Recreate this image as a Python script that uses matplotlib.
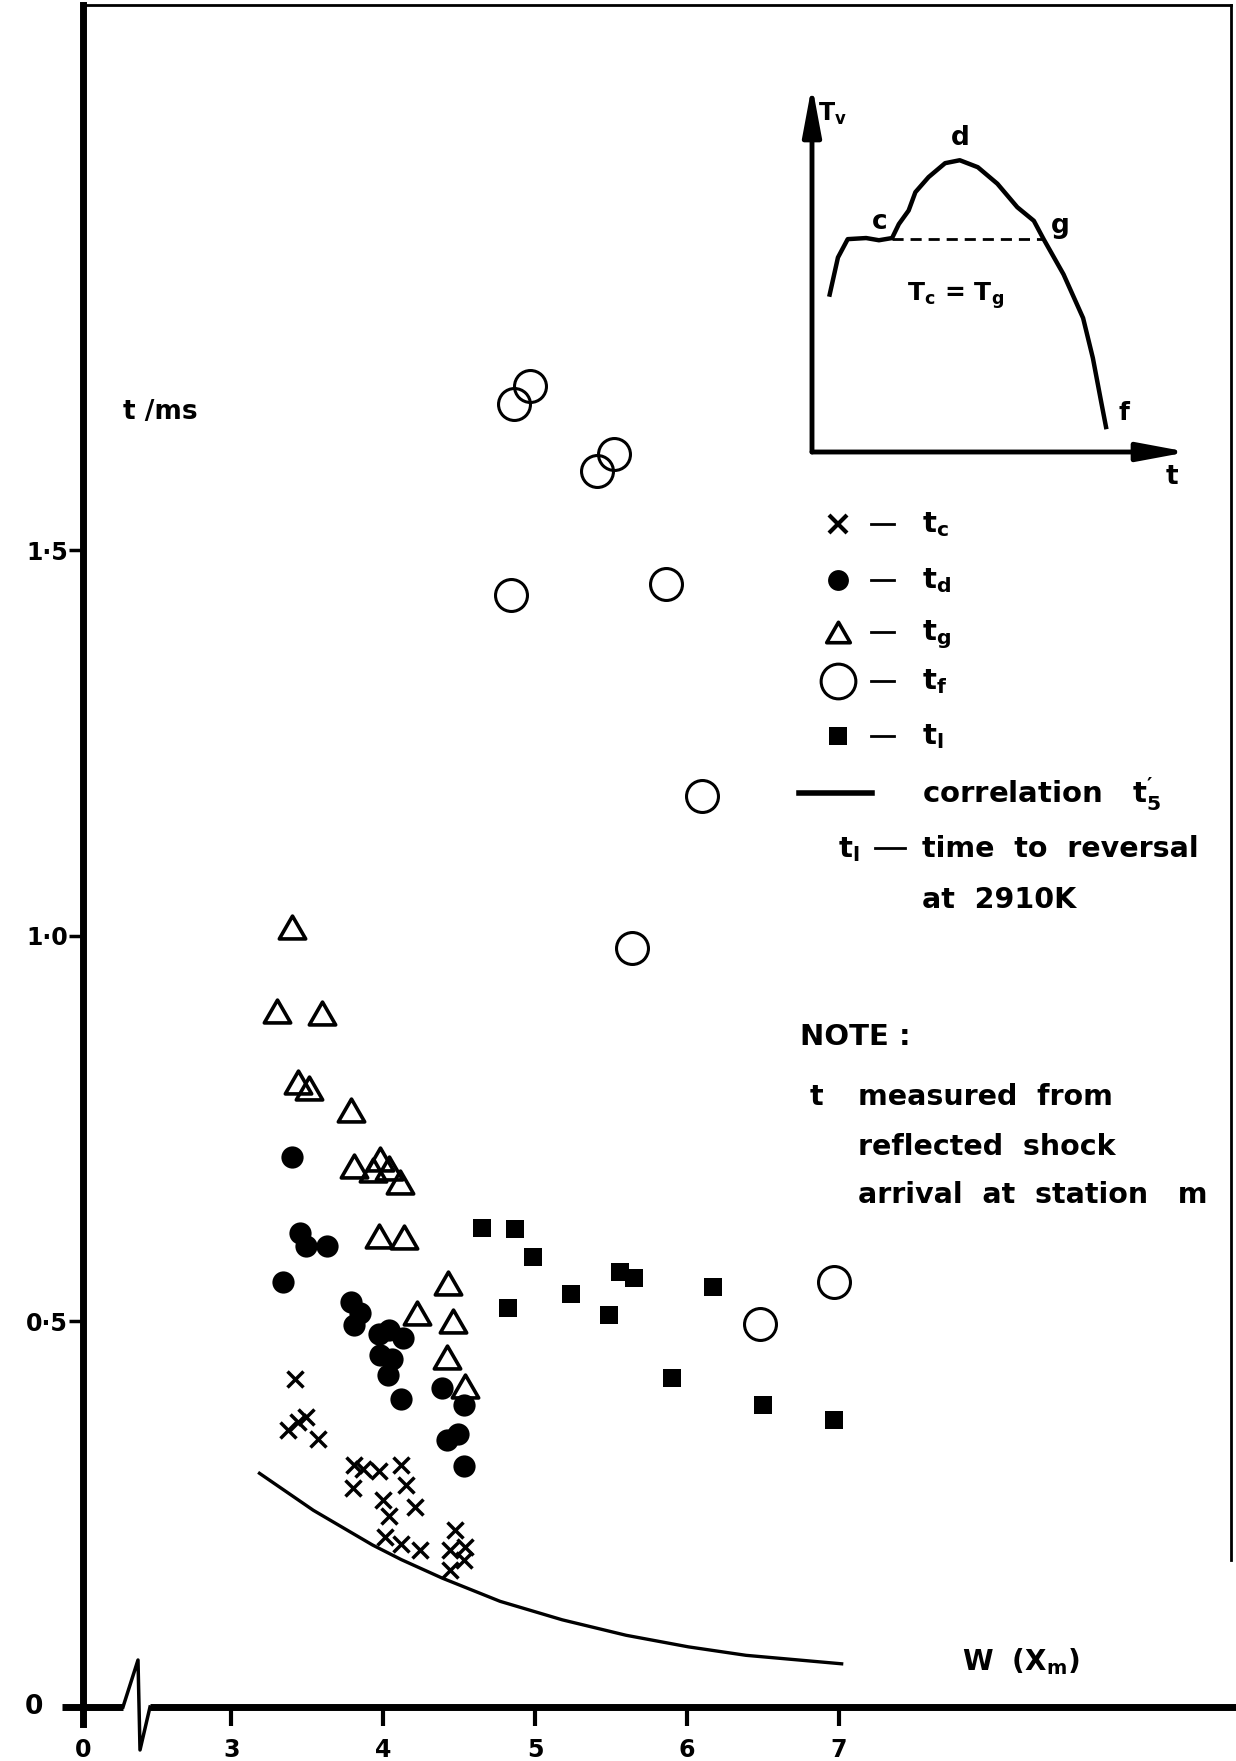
import matplotlib
matplotlib.use("Agg")
import matplotlib.pyplot as plt
from matplotlib.path import Path

plt.rcParams["font.family"] = ["DejaVu Sans"]
plt.rcParams["font.weight"] = "bold"
plt.rcParams["mathtext.fontset"] = "custom"
plt.rcParams["mathtext.rm"] = "DejaVu Sans:bold"
plt.rcParams["mathtext.it"] = "DejaVu Sans:bold"
plt.rcParams["mathtext.bf"] = "DejaVu Sans:bold"
plt.rcParams["mathtext.default"] = "rm"

# t_c (crosses)
tc_w = [3.42, 3.49, 3.44, 3.37, 3.57, 3.81, 3.87, 3.97, 4.12, 3.80, 4.15,
        4.00, 4.21, 4.04, 4.01, 4.12, 4.24, 4.47, 4.44, 4.54, 4.53, 4.44]
tc_t = [0.425, 0.376, 0.370, 0.359, 0.347, 0.314, 0.309, 0.306, 0.314, 0.284, 0.288,
        0.268, 0.259, 0.247, 0.220, 0.211, 0.203, 0.230, 0.204, 0.208, 0.191, 0.177]
# t_d (filled dots)
td_w = [3.40, 3.45, 3.49, 3.63, 3.34, 3.79, 3.85, 3.81, 3.97, 4.04,
        4.13, 3.98, 4.06, 4.03, 4.12, 4.39, 4.53, 4.42, 4.49, 4.53]
td_t = [0.713, 0.615, 0.598, 0.598, 0.551, 0.525, 0.511, 0.495, 0.484, 0.489,
        0.478, 0.456, 0.451, 0.430, 0.399, 0.414, 0.392, 0.346, 0.354, 0.312]
# t_g (open triangles)
tg_w = [3.40, 3.30, 3.60, 3.44, 3.51, 3.79, 3.81, 3.93, 3.98, 4.04,
        4.11, 3.97, 4.14, 4.43, 4.22, 4.46, 4.42, 4.54]
tg_t = [1.011, 0.902, 0.900, 0.810, 0.803, 0.774, 0.701, 0.696, 0.710, 0.699,
        0.681, 0.611, 0.609, 0.550, 0.511, 0.500, 0.454, 0.416]
# t_f (open circles)
tf_w = [4.86, 4.97, 5.41, 5.52, 4.84, 5.86, 6.10, 5.64, 6.48, 6.97]
tf_t = [1.690, 1.713, 1.602, 1.625, 1.442, 1.456, 1.181, 0.984, 0.497, 0.551]
# t_l (filled squares)
tl_w = [4.65, 4.87, 4.99, 4.82, 5.24, 5.56, 5.65, 5.49, 6.17, 5.90, 6.50, 6.97]
tl_t = [0.621, 0.620, 0.583, 0.517, 0.536, 0.564, 0.556, 0.508, 0.545, 0.427, 0.391, 0.372]
# correlation t5'
corr_w = [3.185, 3.54, 3.93, 4.12, 4.39, 4.77, 5.18, 5.60, 6.01, 6.39, 7.02]
corr_t = [0.303, 0.255, 0.210, 0.191, 0.167, 0.137, 0.113, 0.093, 0.078, 0.067, 0.056]

# inset sketch T_v(t), both normalised 0..1
sketch_t = [0.047, 0.069, 0.095, 0.144, 0.178, 0.213, 0.231, 0.257, 0.275, 0.310, 0.354,
            0.393, 0.441, 0.493, 0.546, 0.590, 0.616, 0.669, 0.721, 0.747, 0.769, 0.782]
sketch_T = [0.429, 0.530, 0.580, 0.583, 0.577, 0.583, 0.621, 0.658, 0.708, 0.749, 0.787,
            0.795, 0.776, 0.731, 0.667, 0.630, 0.580, 0.484, 0.365, 0.256, 0.137, 0.068]
level_t = [0.213, 0.616]
level_T = [0.58, 0.58]

xticks = [3, 4, 5, 6, 7]
yticks = [0.5, 1.0, 1.5]
ytick_labels = ["0·5", "1·0", "1·5"]

W, H = 1236, 1761
X_LEFT, X_RIGHT, Y_TOP, Y_ZERO = 83, 1236, 5, 1707
PX_W3, PX_PER_W, PX_PER_T = 231.4, 151.8, 771.3

fig = plt.figure(figsize=(W / 100, H / 100), dpi=100)
ax = fig.add_axes([X_LEFT / W, 1 - Y_ZERO / H, (X_RIGHT - X_LEFT) / W, (Y_ZERO - Y_TOP) / H])
x0 = 3 + (X_LEFT - PX_W3) / PX_PER_W
ax.set_xlim(x0, 3 + (X_RIGHT - PX_W3) / PX_PER_W)
ax.set_ylim(0, (Y_ZERO - Y_TOP) / PX_PER_T)
ax.patch.set_visible(False)
for s in ("top", "right", "bottom"):
    ax.spines[s].set_visible(False)
ax.spines["left"].set_linewidth(5)

ax.set_xticks([x0] + xticks, ["0"] + [str(v) for v in xticks])
ax.set_yticks(yticks, ytick_labels)
ax.tick_params(axis="x", length=14, width=3, labelsize=17, pad=8)
ax.tick_params(axis="y", length=10, width=2.5, labelsize=17, pad=1)

tri = Path([(-1, -0.866), (1, -0.866), (0, 0.866), (0, 0)], closed=True)

ax.plot(corr_w, corr_t, color="black", lw=2.4, clip_on=False)
ax.plot(tc_w, tc_t, ls="none", marker="x", ms=11, mew=2.5, color="black")
ax.plot(td_w, td_t, ls="none", marker="o", ms=16, mew=0, color="black")
ax.plot(tg_w, tg_t, ls="none", marker=tri, ms=19, mew=2.6, mfc="none", mec="black")
ax.plot(tf_w, tf_t, ls="none", marker="o", ms=23, mew=2.2, mfc="none", mec="black")
ax.plot(tl_w, tl_t, ls="none", marker="s", ms=13, mew=0, color="black")

# overlay in pixel coordinates for frame, axis break, legend and notes
deco = fig.add_axes([0, 0, 1, 1])
deco.set_xlim(0, W)
deco.set_ylim(H, 0)
deco.axis("off")

deco.plot([62, 123], [Y_ZERO, Y_ZERO], color="black", lw=5, solid_capstyle="butt")
deco.plot([123, 138, 140, 150], [Y_ZERO, 1660, 1750, Y_ZERO], color="black", lw=2.5)
deco.plot([150, W], [Y_ZERO, Y_ZERO], color="black", lw=5, solid_capstyle="butt")
deco.plot([X_LEFT, 1231], [Y_TOP, Y_TOP], color="black", lw=2)
deco.plot([1231, 1231], [Y_TOP, 1560], color="black", lw=2)
deco.plot([X_LEFT, X_LEFT], [Y_ZERO, 1724], color="black", lw=5)

deco.text(34, Y_ZERO, "0", fontsize=19, ha="center", va="center")
deco.text(160, 412, "t /ms", fontsize=19, ha="center", va="center")
deco.text(962, 1662, "W  (X$_m$)", fontsize=20, ha="left", va="center")

# legend
mk_x, dash_x, txt_x = 838, (871, 894), 922
rows = [
    dict(y=524, label="t$_c$", kw=dict(marker="x", ms=13, mew=3, color="black")),
    dict(y=580, label="t$_d$", kw=dict(marker="o", ms=15, mew=0, color="black")),
    dict(y=632, label="t$_g$", kw=dict(marker=tri, ms=17, mew=2.6, mfc="none", mec="black")),
    dict(y=681, label="t$_f$", kw=dict(marker="o", ms=25, mew=2.2, mfc="none", mec="black")),
    dict(y=736, label="t$_l$", kw=dict(marker="s", ms=13, mew=0, color="black")),
]
for r in rows:
    deco.plot([mk_x], [r["y"]], ls="none", **r["kw"])
    deco.plot(dash_x, [r["y"], r["y"]], color="black", lw=2)
    deco.text(txt_x, r["y"] + 8, r["label"], fontsize=21, ha="left", va="baseline")
deco.plot([799, 872], [793, 793], color="black", lw=4)
deco.text(txt_x, 803, "correlation   t$_5^{\\prime}$", fontsize=21, ha="left", va="baseline")
deco.text(838, 857, "t$_l$", fontsize=21, ha="left", va="baseline")
deco.plot([875, 905], [848, 848], color="black", lw=2)
deco.text(922, 857, "time  to  reversal", fontsize=20.5, ha="left", va="baseline")
deco.text(922, 908, "at  2910K", fontsize=20.5, ha="left", va="baseline")
deco.text(800, 1045, "NOTE :", fontsize=21, ha="left", va="baseline")
deco.text(810, 1105, "t", fontsize=20.5, ha="left", va="baseline")
deco.text(858, 1105, "measured  from", fontsize=20.5, ha="left", va="baseline")
deco.text(858, 1155, "reflected  shock", fontsize=20.5, ha="left", va="baseline")
deco.text(858, 1203, "arrival  at  station   m", fontsize=20.5, ha="left", va="baseline")

# inset sketch
ins = fig.add_axes([812 / W, 1 - 452 / H, 376 / W, 367 / H])
ins.set_xlim(0, 1)
ins.set_ylim(0, 1)
ins.axis("off")
arrow = dict(arrowstyle="-|>,head_length=1.5,head_width=0.28", lw=3.5, color="black",
             shrinkA=0, shrinkB=0, mutation_scale=20)
ins.annotate("", xy=(1, 0), xytext=(0, 0), arrowprops=arrow)
ins.annotate("", xy=(0, 1), xytext=(0, 0), arrowprops=arrow)
ins.plot(sketch_t, sketch_T, color="black", lw=3.2, solid_joinstyle="round")
ins.plot(level_t, level_T, color="black", lw=2, ls=(0, (4, 2.5)))

deco.text(818, 114, "T$_v$", fontsize=17, ha="left", va="center")
deco.text(960, 138, "d", fontsize=19, ha="center", va="center")
deco.text(880, 222, "c", fontsize=19, ha="center", va="center")
deco.text(1060, 226, "g", fontsize=19, ha="center", va="center")
deco.text(956, 296, "T$_c$ = T$_g$", fontsize=18, ha="center", va="center")
deco.text(1124, 413, "f", fontsize=18, ha="center", va="center")
deco.text(1172, 477, "t", fontsize=19, ha="center", va="center")

fig.savefig("out.png", dpi=100, facecolor="white")
